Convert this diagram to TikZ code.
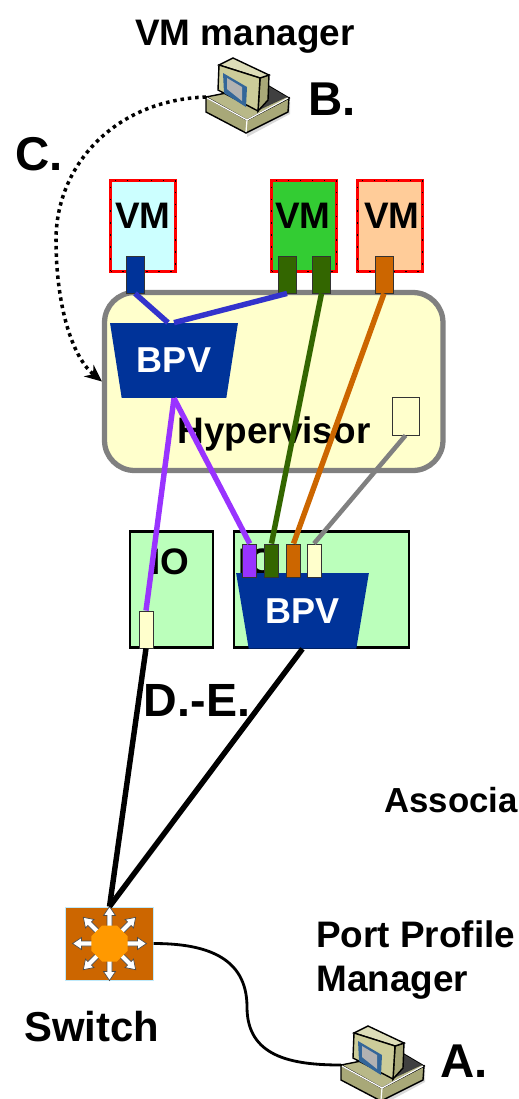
\documentclass[tikz,border=0pt]{standalone}
\usepackage{fontspec}
\setmainfont{Liberation Sans}
\usetikzlibrary{shapes.geometric, arrows.meta}

\definecolor{portblue}{HTML}{003399}
\definecolor{wireblue}{HTML}{3333CC}
\definecolor{portgreen}{HTML}{336600}
\definecolor{portorange}{HTML}{CC6600}
\definecolor{wirepurple}{HTML}{9933FF}
\definecolor{hypercream}{HTML}{FFFFCC}
\definecolor{iogreen}{HTML}{BBFFBB}
\definecolor{vmcyan}{HTML}{CCFFFF}
\definecolor{vmgreen}{HTML}{33CC33}
\definecolor{vmorange}{HTML}{FFCC99}
\definecolor{pcfront}{HTML}{CCCC99}
\definecolor{pctop}{HTML}{DDDDB8}
\definecolor{pcside}{HTML}{A8A878}
\definecolor{pcbase}{HTML}{B8B888}
\definecolor{pcscreen}{HTML}{336699}

\tikzset{
    lbl/.style={font=\fontsize{21}{25.3}\selectfont\bfseries, inner sep=0, anchor=base},
    bigletter/.style={font=\fontsize{27}{30}\selectfont\bfseries, inner sep=0, anchor=base west},
    vmbox/.style={minimum width=1.3cm, minimum height=1.82cm, inner sep=0, draw=red, line width=1.2pt,
        postaction={draw=black, line width=1pt, dash pattern=on 0.8pt off 6pt}},
    iobox/.style={draw=black, fill=iogreen, line width=1.3pt, inner sep=0},
    port/.style={minimum width=0.28cm, minimum height=0.66cm, inner sep=0, draw=black!80, line width=0.5pt},
    bpv/.style={trapezium, shape border rotate=180, trapezium stretches=true, fill=portblue, text=white,
        font=\fontsize{20.5}{25}\selectfont\bfseries, inner sep=0},
    wire/.style={line width=3.1pt},
    computer/.pic={
        \coordinate (-west) at (-41, 0);
        \fill[black!15] (0, 40) -- (43, 17) -- (43, 5) -- (0, 30) -- cycle;
        \draw[fill=pcside, line width=0.8pt] (-41, 0) -- (-41, 15) -- (-1, 36) -- (41, 15) -- (42, 1) -- (0, 23) -- cycle;
        \draw[fill=pcbase, line width=0.8pt] (-41, 0) -- (20, -12) -- (42, 1) -- (0, 23) -- cycle;
        \draw[white, line width=0.7pt] (-40, 1) -- (0, 23) -- (41, 1) (0, 23) -- (-1, 35);
        \fill[black!75] (21, -11) -- (40, 0) -- (10, 14) -- cycle;
        \draw[fill=pcside, line width=0.8pt] (13, -19) -- (22, -22) -- (21, 3) -- (11, 14) -- cycle;
        \draw[fill=pctop, line width=0.8pt] (-28, -32) -- (-14, -39) -- (22, -22) -- (13, -19) -- cycle;
        \draw[fill=pcfront, line width=0.8pt] (-28, -32) -- (13, -19) -- (11, 14) -- (-29, -7) -- cycle;
        \fill[pcscreen] (-24, -24) -- (0, -10) -- (-1, 10) -- (-23, -4) -- cycle;
        \fill[black!30] (-20, -19) -- (-5, -10) -- (-5, 4) -- (-20, -8) -- cycle;
    }
}

\begin{document}
\begin{tikzpicture}[x=0.02cm, y=-0.02cm]
    \useasboundingbox (0, 0) rectangle (519, 1099);

    \node[lbl] (vmmanager) at (245, 45) {VM manager};
    \pic (pcb) at (247, 97) {computer};
    \node[bigletter] (letterb) at (308, 115) {B.};
    \node[bigletter] (letterc) at (15, 170) {C.};

    \foreach \name/\x/\col in {vma/143/vmcyan, vmb/304/vmgreen, vmc/390/vmorange} {
        \node[vmbox, fill=\col] (\name) at (\x, 226) {};
    }
    \node[lbl] (vmtexta) at (143, 228) {VM};
    \node[lbl] (vmtextb) at (303, 228) {VM};
    \node[lbl] (vmtextc) at (392, 228) {VM};

    \node[draw=black!50, fill=hypercream, line width=3pt, rounded corners=0.6cm,
        minimum width=6.77cm, minimum height=3.56cm] (hypervisor) at (273.75, 381.5) {};
    \node[lbl] (hypertext) at (274, 443) {Hypervisor};

    \foreach \name/\x/\col in {porta/135/portblue, portb/287/portgreen, portc/321.5/portgreen, portd/384/portorange} {
        \node[port, fill=\col, minimum width=0.36cm, minimum height=0.74cm] (\name) at (\x, 274.5) {};
    }
    \node[bpv, trapezium angle=71.6, minimum width=2.56cm, minimum height=1.5cm] (bpvtop) at (174, 360.5) {\raisebox{-0.05cm}{BPV}};
    \node[port, fill=hypercream, minimum width=0.54cm, minimum height=0.76cm] (uplink) at (405.5, 416) {};

    \node[iobox, minimum width=1.66cm, minimum height=2.32cm] (ioa) at (171.5, 589.5) {};
    \node[iobox, minimum width=3.51cm, minimum height=2.32cm] (iob) at (321.5, 589.5) {};
    \node[lbl] (iotexta) at (170, 574) {IO};
    \node[lbl] (iotextb) at (258, 574) {IO};
    \node[bpv, trapezium angle=70.7, minimum width=2.66cm, minimum height=1.51cm] (bpvbottom) at (302.5, 610.75) {BPV};

    \foreach \name/\x/\col in {nicpurple/249.7/wirepurple, nicgreen/271.5/portgreen, nicorange/293.5/portorange, niccream/314/hypercream} {
        \node[port, fill=\col] (\name) at (\x, 560.5) {};
    }
    \node[port, fill=hypercream, minimum height=0.74cm] (nicio) at (146, 629.5) {};

    \draw[wire, wireblue] (porta.south) -- ([xshift=-0.12cm]bpvtop.north);
    \draw[wire, wireblue] (portb.south) -- (bpvtop.north);
    \draw[wire, portgreen] (portc.south) -- (nicgreen.north);
    \draw[wire, portorange] (portd.south) -- (nicorange.north);
    \draw[wire, wirepurple] (bpvtop.south) -- (nicio.north);
    \draw[wire, wirepurple] (bpvtop.south) -- (nicpurple.north);
    \draw[line width=2.6pt, black!50] (uplink.south) -- (niccream.north);

    \node[fill=portorange, draw=cyan!25, line width=0.5pt, minimum width=1.75cm, minimum height=1.46cm] (switch) at (109.5, 943.5) {};
    \foreach \a in {0, 45, ..., 315} {
        \draw[fill=white, draw=black!70, line width=0.4pt, shift={(switch.center)}, rotate=\a]
            (15, -2.5) -- (28, -2.5) -- (28, -6) -- (37, 0) -- (28, 6) -- (28, 2.5) -- (15, 2.5) -- cycle;
    }
    \node[regular polygon, regular polygon sides=8, fill=orange!80!yellow, inner sep=0, minimum size=0.78cm] (hub) at (switch.center) {};
    \draw[wire, black] (nicio.south) -- (switch.north);
    \draw[wire, black] (bpvbottom.south) -- (switch.north);

    \node[lbl] (diskio) at (197, 716) {\fontsize{26.5}{30}\selectfont D.-E.};
    \node[lbl, anchor=base west, font=\fontsize{19.8}{25}\selectfont\bfseries] (associa) at (384, 812) {Associa};
    \node[lbl, align=left, anchor=west] (profile) at (316, 960) {Port Profile\\Manager};
    \node[lbl, font=\fontsize{23.8}{28}\selectfont\bfseries] (switchtext) at (91.5, 1041) {Switch};

    \pic (pca) at (382, 1065) {computer};
    \node[bigletter] (lettera) at (440, 1077) {A.};

    \coordinate (bendc) at (56, 240);
    \coordinate (bendw) at (247, 1007);
    \draw[line width=2pt, dash pattern=on 2pt off 2.2pt, -{Stealth[length=0.34cm, width=0.3cm]}]
        (pcb-west) .. controls (115, 100) and (56, 165) .. (bendc) .. controls (56, 300) and (70, 355) .. (hypervisor.west);
    \draw[line width=1.6pt] (switch.east) to[out=0, in=90, looseness=1.15] (bendw) to[out=-90, in=180, looseness=1.15] (pca-west);
\end{tikzpicture}
\end{document}
